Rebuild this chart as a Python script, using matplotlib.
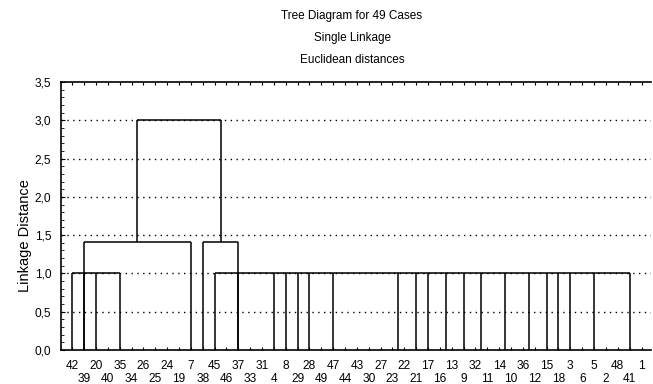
import numpy as np
import matplotlib
matplotlib.use("Agg")
import matplotlib.pyplot as plt
from matplotlib.ticker import MultipleLocator

plt.rcParams['font.family'] = ['Liberation Sans', 'DejaVu Sans']
fs = 8.6     # tick labels
fs_t = 8.5   # titles

# leaf order as it is drawn along the x axis
leaf_labels = ["42", "39", "20", "40", "35", "34", "26", "25", "24", "19",
               "7", "38", "45", "46", "37", "33", "31", "4", "8", "29",
               "28", "49", "47", "44", "43", "30", "27", "23", "22", "21",
               "17", "16", "13", "9", "32", "11", "14", "10", "36", "12",
               "15", "18", "3", "6", "5", "2", "48", "41", "1"]

# linkage heights
h1 = 1.0
h2 = 1.414
h3 = 3.0

# clusters joined at h1 (a tuple = stem drawn between two cases)
level1 = [
    ["42", "39", "20", "35"],
    ["45", "37", "4", "8", "29", "28", "47", ("23", "22"), "21", "17",
     ("16", "13"), "9", ("32", "11"), ("14", "10"), ("36", "12"),
     "15", "18", "3", "5", "41"],
]
# joins at h2
level2 = [("39", "7"), ("38", "37")]

pos = {lab: i for i, lab in enumerate(leaf_labels)}

def xpos(m):
    if isinstance(m, tuple):
        return np.mean([pos[k] for k in m])
    return pos[m]

fig = plt.figure(figsize=(6.53, 3.84), dpi=100)
ax = fig.add_axes([61/653, 34/384, 590/653, 268/384])

lw = 1.1
col = 'black'
for members in level1:
    xs = [xpos(m) for m in members]
    ax.vlines(xs, 0, h1, color=col, lw=lw, zorder=3)
    ax.hlines(h1, min(xs), max(xs), color=col, lw=lw, zorder=3)

mids = []
for a, b in level2:
    xa, xb = xpos(a), xpos(b)
    ax.vlines([xa, xb], 0, h2, color=col, lw=lw, zorder=3)
    ax.hlines(h2, xa, xb, color=col, lw=lw, zorder=3)
    mids.append((xa + xb) / 2)

ax.vlines(mids, h2, h3, color=col, lw=lw, zorder=3)
ax.hlines(h3, mids[0], mids[1], color=col, lw=lw, zorder=3)

n = len(leaf_labels)
ax.set_xlim(-0.95, 48.8)
ax.set_ylim(0, 3.5)

# dotted grid
for g in np.arange(0.5, 3.01, 0.5):
    ax.axhline(g, color='black', lw=1.0, linestyle=(0, (1, 3.2)), zorder=1)

# x ticks: alternating two rows
even = list(range(0, n, 2))
odd = list(range(1, n, 2))
ax.set_xticks(even)
ax.set_xticklabels([leaf_labels[i] for i in even], fontsize=fs)
ax.set_xticks(odd, minor=True)
ax.set_xticklabels([leaf_labels[i] for i in odd], minor=True, fontsize=fs)
ax.tick_params(axis='x', which='major', direction='in', length=2, pad=7,
               top=True, width=0.8)
ax.tick_params(axis='x', which='minor', direction='in', length=2, pad=16.5,
               top=True, width=0.8)

ax.yaxis.set_minor_locator(MultipleLocator(0.1))
yt = np.arange(0, 3.51, 0.5)
ax.set_yticks(yt)
ax.set_yticklabels([f"{v:.1f}".replace('.', ',') for v in yt], fontsize=fs)
ax.tick_params(axis='y', which='major', direction='in', length=3, pad=7, width=0.8)
ax.tick_params(axis='y', which='minor', direction='in', length=2, width=0.6)

for s in ['left', 'bottom', 'top']:
    ax.spines[s].set_linewidth(1.2)
ax.spines['right'].set_visible(False)

fig.text(25/653, 1 - 236/384, "Linkage Distance", rotation=90, fontsize=10.5,
         ha='center', va='center')

fig.text(352/653, 1 - 16/384, "Tree Diagram for 49 Cases", fontsize=fs_t,
         ha='center', va='center')
fig.text(352/653, 1 - 38/384, "Single Linkage", fontsize=fs_t,
         ha='center', va='center')
fig.text(352/653, 1 - 60/384, "Euclidean distances", fontsize=fs_t,
         ha='center', va='center')

fig.savefig("out.png", dpi=100)
